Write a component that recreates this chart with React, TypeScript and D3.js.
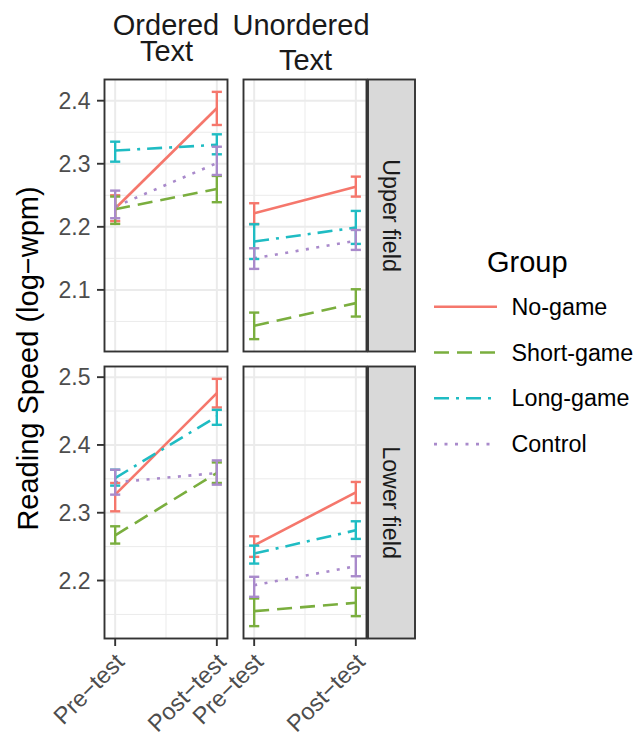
import React from "react";
import * as d3 from "d3";

// ---------- data ----------
const groups = ["No-game", "Short-game", "Long-game", "Control"];
const tests = ["Pre\u2212test", "Post\u2212test"];
const textTypes = [["Ordered", "Text"], ["Unordered", "Text"]];
const fields = ["Upper field", "Lower field"];

const upperOrderedMean = [[2.229, 2.388], [2.228, 2.26], [2.321, 2.33], [2.232, 2.301]];
const upperOrderedLow = [[2.209, 2.3615], [2.2046, 2.239], [2.3033, 2.315], [2.2136, 2.2822]];
const upperOrderedHigh = [[2.25, 2.414], [2.248, 2.2807], [2.335, 2.3467], [2.2574, 2.327]];

const upperUnorderedMean = [[2.2215, 2.2637], [2.043, 2.079], [2.1766, 2.1988], [2.15, 2.178]];
const upperUnorderedLow = [[2.2046, 2.2479], [2.0219, 2.0577], [2.149, 2.1729], [2.1333, 2.1634]];
const upperUnorderedHigh = [[2.2374, 2.2796], [2.064, 2.101], [2.204, 2.2252], [2.166, 2.195]];

const lowerOrderedMean = [[2.3267, 2.4764], [2.2667, 2.3586], [2.3512, 2.442], [2.3448, 2.3586]];
const lowerOrderedLow = [[2.3021, 2.4553], [2.2545, 2.3439], [2.34, 2.4297], [2.3267, 2.3414]];
const lowerOrderedHigh = [[2.3439, 2.4975], [2.28, 2.3742], [2.3635, 2.4518], [2.3635, 2.3772]];

const lowerUnorderedMean = [[2.252, 2.33], [2.1548, 2.1671], [2.2398, 2.2741], [2.1931, 2.2211]];
const lowerUnorderedLow = [[2.2349, 2.3144], [2.1327, 2.1474], [2.225, 2.2614], [2.176, 2.2063]];
const lowerUnorderedHigh = [[2.2652, 2.3454], [2.1735, 2.1893], [2.2515, 2.2874], [2.2055, 2.2358]];

const upperTicks = [2.1, 2.2, 2.3, 2.4];
const lowerTicks = [2.2, 2.3, 2.4, 2.5];

// ---------- styles ----------
const colors = ["#F5776C", "#7AAE3E", "#1FBCC3", "#A98ACB"];
const dashes = ["none", "15,8", "15,7,3,7", "3,7.5"];
const FONT = "'Liberation Sans', Arial, Helvetica, sans-serif";

const panels = [
  [
    { mean: upperOrderedMean, lo: upperOrderedLow, hi: upperOrderedHigh },
    { mean: upperUnorderedMean, lo: upperUnorderedLow, hi: upperUnorderedHigh },
  ],
  [
    { mean: lowerOrderedMean, lo: lowerOrderedLow, hi: lowerOrderedHigh },
    { mean: lowerUnorderedMean, lo: lowerUnorderedLow, hi: lowerUnorderedHigh },
  ],
];
const rowTicks = [upperTicks, lowerTicks];

// layout
const colX = [104.5, 243.5];
const PW = 123;
const rowY = [79.5, 366.5];
const PH = 272;
const stripX = 368;
const stripW = 47;

export default function App() {
  const x = d3.scaleLinear().domain([-0.105, 1.105]).range([0, PW]);
  const capHalf = x(0.05) - x(0);

  const yScales = panels.map((row) => {
    const all = row.flatMap((p) => [...p.lo.flat(), ...p.hi.flat()]);
    const mn = d3.min(all) as number;
    const mx = d3.max(all) as number;
    const pad = (mx - mn) * 0.05;
    return d3.scaleLinear().domain([mn - pad, mx + pad]).range([PH, 0]);
  });

  return (
    <svg
      width={637}
      height={737}
      style={{ position: "absolute", left: 0, top: 0, background: "#fff" }}
      fontFamily={FONT}
    >
      <rect width={637} height={737} fill="#fff" />
      {panels.map((row, r) => {
        const y = yScales[r];
        const ticks = rowTicks[r];
        const [d0, d1] = y.domain();
        const minor = d3.range(Math.ceil(d0 * 20) / 20, d1, 0.05).filter(
          (v) => !ticks.some((t) => Math.abs(t - v) < 1e-6)
        );
        return row.map((p, c) => {
          const line = d3
            .line<number>()
            .x((_, i) => x(i))
            .y((v) => y(v));
          return (
            <g key={`${r}-${c}`} transform={`translate(${colX[c]},${rowY[r]})`}>
              <rect width={PW} height={PH} fill="#fff" />
              {minor.map((v) => (
                <line key={`mn${v}`} x1={0} x2={PW} y1={y(v)} y2={y(v)} stroke="#EBEBEB" strokeWidth={1} />
              ))}
              <line x1={x(0.5)} x2={x(0.5)} y1={0} y2={PH} stroke="#EBEBEB" strokeWidth={1} />
              {ticks.map((v) => (
                <line key={`mj${v}`} x1={0} x2={PW} y1={y(v)} y2={y(v)} stroke="#EBEBEB" strokeWidth={2} />
              ))}
              {[0, 1].map((i) => (
                <line key={`vx${i}`} x1={x(i)} x2={x(i)} y1={0} y2={PH} stroke="#EBEBEB" strokeWidth={2} />
              ))}
              {groups.map((g, gi) => (
                <path
                  key={`l${g}`}
                  d={line(p.mean[gi]) as string}
                  fill="none"
                  stroke={colors[gi]}
                  strokeWidth={2.6}
                  strokeDasharray={dashes[gi]}
                />
              ))}
              {groups.map((g, gi) => (
                <g key={`e${g}`} stroke={colors[gi]} strokeWidth={2.4} fill="none">
                  {[0, 1].map((i) => (
                    <g key={i}>
                      <line x1={x(i)} x2={x(i)} y1={y(p.lo[gi][i])} y2={y(p.hi[gi][i])} />
                      <line x1={x(i) - capHalf} x2={x(i) + capHalf} y1={y(p.lo[gi][i])} y2={y(p.lo[gi][i])} />
                      <line x1={x(i) - capHalf} x2={x(i) + capHalf} y1={y(p.hi[gi][i])} y2={y(p.hi[gi][i])} />
                    </g>
                  ))}
                </g>
              ))}
              <rect width={PW} height={PH} fill="none" stroke="#333333" strokeWidth={1.9} />
              {c === 0 &&
                ticks.map((v) => (
                  <g key={`yt${v}`}>
                    <line x1={-7.5} x2={0} y1={y(v)} y2={y(v)} stroke="#333333" strokeWidth={1.9} />
                    <text
                      x={-14}
                      y={y(v)}
                      dy="0.36em"
                      textAnchor="end"
                      fontSize={23}
                      fill="#4D4D4D"
                    >
                      {d3.format(".1f")(v)}
                    </text>
                  </g>
                ))}
              {r === 1 &&
                tests.map((t, i) => (
                  <g key={`xt${i}`}>
                    <line x1={x(i)} x2={x(i)} y1={PH} y2={PH + 7.5} stroke="#333333" strokeWidth={1.9} />
                    <text
                      transform={`translate(${x(i) + 10.5},${PH + 25}) rotate(-45)`}
                      textAnchor="end"
                      fontSize={23.5}
                      fill="#4D4D4D"
                    >
                      {t}
                    </text>
                  </g>
                ))}
            </g>
          );
        });
      })}

      {/* row strips */}
      {fields.map((f, r) => (
        <g key={f}>
          <rect x={stripX} y={rowY[r]} width={stripW} height={PH} fill="#D9D9D9" stroke="#333333" strokeWidth={1.9} />
          <text
            transform={`translate(${stripX + stripW / 2},${rowY[r] + PH / 2}) rotate(90)`}
            textAnchor="middle"
            dy="0.35em"
            fontSize={23.3}
            fill="#1A1A1A"
          >
            {f}
          </text>
        </g>
      ))}

      {/* column strips */}
      <text textAnchor="middle" fontSize={29} fill="#1A1A1A">
        <tspan x={166} y={35}>{textTypes[0][0]}</tspan>
        <tspan x={166.5} y={61}>{textTypes[0][1]}</tspan>
      </text>
      <text textAnchor="middle" fontSize={29} fill="#1A1A1A">
        <tspan x={301} y={35}>{textTypes[1][0]}</tspan>
        <tspan x={305.5} y={70}>{textTypes[1][1]}</tspan>
      </text>

      {/* y axis title */}
      <text
        transform={`translate(38,358.5) rotate(-90)`}
        textAnchor="middle"
        fontSize={29}
        fill="#000"
      >
        Reading Speed (log{"\u2212"}wpm)
      </text>

      {/* legend */}
      <text x={487} y={272} fontSize={29} fill="#000">Group</text>
      {groups.map((g, gi) => {
        const ly = 306.7 + gi * 45.8;
        return (
          <g key={`lg${g}`}>
            <line
              x1={434}
              x2={497}
              y1={ly}
              y2={ly}
              stroke={colors[gi]}
              strokeWidth={2.6}
              strokeDasharray={dashes[gi]}
            />
            <text x={511.5} y={ly} dy="0.35em" fontSize={23.3} fill="#000">
              {g}
            </text>
          </g>
        );
      })}
    </svg>
  );
}
